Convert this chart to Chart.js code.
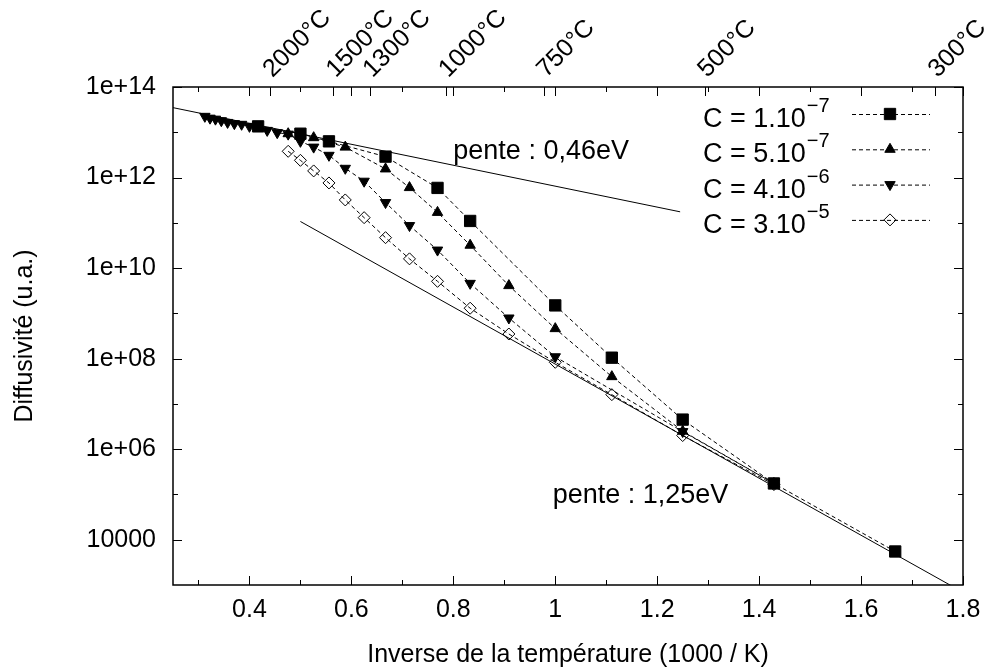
<!DOCTYPE html>
<html>
<head>
<meta charset="utf-8">
<script src="https://cdn.jsdelivr.net/npm/chart.js@4.4.0/dist/chart.umd.min.js"></script>
<style>
  html, body { margin: 0; padding: 0; background: #fff; }
  #wrap { width: 989px; height: 670px; }
</style>
</head>
<body>
<div id="wrap"><canvas id="myChart" width="989" height="670"></canvas></div>
<script>
// x = inverse temperature (1000 / K), y = diffusivity (u.a.)
var xC1 = [0.417, 0.5, 0.556, 0.667, 0.769, 0.833, 1.0, 1.111, 1.25, 1.429, 1.667];
var yC1 = [1.35e13, 9.3e12, 6.3e12, 2.9e12, 5.9e11, 1.1e11, 1.5e9, 1.05e8, 4.5e6, 1.75e5, 5.5e3];

var xC2 = [0.476, 0.526, 0.588, 0.667, 0.714, 0.769, 0.833, 0.909, 1.0, 1.111, 1.25, 1.429];
var yC2 = [9.3e12, 7.6e12, 4.7e12, 1.55e12, 6.0e11, 1.7e11, 3.2e10, 4.1e9, 4.6e8, 4.0e7, 2.5e6, 1.75e5];

var xC3 = [0.3125, 0.3226, 0.3333, 0.3448, 0.3571, 0.3704, 0.3846, 0.4, 0.4348, 0.4545, 0.476,
           0.5, 0.526, 0.556, 0.588, 0.625, 0.667, 0.714, 0.769, 0.833, 0.909, 1.0, 1.25, 1.429];
var yC3 = [2.25e13, 2.05e13, 1.95e13, 1.8e13, 1.65e13, 1.55e13, 1.5e13, 1.35e13, 1.1e13, 9.8e12, 9.1e12,
           6.3e12, 4.7e12, 3.1e12, 1.6e12, 8.3e11, 2.8e11, 8.7e10, 2.5e10, 4.6e9, 7.9e8, 1.1e8, 2.45e6, 1.75e5];

var xC4 = [0.476, 0.5, 0.526, 0.556, 0.588, 0.625, 0.667, 0.714, 0.769, 0.833, 0.909, 1.0, 1.111, 1.25, 1.429];
var yC4 = [3.8e12, 2.4e12, 1.4e12, 7.6e11, 3.2e11, 1.3e11, 4.7e10, 1.6e10, 5.1e9, 1.3e9, 3.5e8, 8.3e7, 1.6e7, 2.0e6, 1.65e5];

// the two straight fits
var xFit1 = [0.25, 1.245];
var yFit1 = [3.5e13, 1.75e11];
var xFit2 = [0.5, 1.8];
var yFit2 = [1.07e11, 6.9e2];

var legendBase = ['C = 1.10', 'C = 5.10', 'C = 4.10', 'C = 3.10'];
var legendExp = ['\u22127', '\u22127', '\u22126', '\u22125'];

var noteText = ['pente : 0,46eV', 'pente : 1,25eV'];
var noteX = [0.8, 0.995];
var noteY = [2.6e12, 6.6e4];

var xMajor = [0.4, 0.6, 0.8, 1.0, 1.2, 1.4, 1.6, 1.8];
var xMinor = [0.3, 0.5, 0.7, 0.9, 1.1, 1.3, 1.5, 1.7];
var tempPos = [0.44, 0.564, 0.636, 0.785, 0.977, 1.293, 1.745];
var tempLabels = ['2000\u00b0C', '1500\u00b0C', '1300\u00b0C', '1000\u00b0C', '750\u00b0C', '500\u00b0C', '300\u00b0C'];
var yMajor = [1e4, 1e6, 1e8, 1e10, 1e12, 1e14];
var yMinor = [1e5, 1e7, 1e9, 1e11, 1e13];
var yLabels = ['10000', '1e+06', '1e+08', '1e+10', '1e+12', '1e+14'];

var FONT = '"Liberation Sans", Arial, sans-serif';

function pts(xs, ys) {
  return xs.map(function (x, i) { return { x: x, y: ys[i] }; });
}

function series(xs, ys, style, rot, r, fill) {
  return {
    data: pts(xs, ys),
    showLine: true,
    borderColor: '#000',
    borderWidth: 1,
    borderDash: [4, 3],
    pointStyle: style,
    rotation: rot,
    pointRadius: r,
    pointBorderWidth: 1,
    pointBorderColor: '#000',
    pointBackgroundColor: fill,
    backgroundColor: fill
  };
}

function fitLine(xs, ys) {
  return {
    data: pts(xs, ys),
    showLine: true,
    borderColor: '#000',
    borderWidth: 1,
    pointRadius: 0
  };
}

var marks = [
  { style: 'rect', rot: 0, r: 8, fill: '#000' },
  { style: 'triangle', rot: 0, r: 6, fill: '#000' },
  { style: 'triangle', rot: 180, r: 6, fill: '#000' },
  { style: 'rectRot', rot: 0, r: 6, fill: 'rgba(0,0,0,0)' }
];

var decor = {
  id: 'decor',
  afterDraw: function (chart) {
    var ctx = chart.ctx, a = chart.chartArea;
    var sx = chart.scales.x, sy = chart.scales.y;
    ctx.save();
    ctx.strokeStyle = '#000';
    ctx.lineWidth = 1;
    ctx.beginPath();
    function vt(v, len) {
      var p = Math.round(sx.getPixelForValue(v)) + 0.5;
      ctx.moveTo(p, a.bottom); ctx.lineTo(p, a.bottom - len);
      ctx.moveTo(p, a.top); ctx.lineTo(p, a.top + len);
    }
    xMajor.forEach(function (v) { vt(v, 9); });
    xMinor.forEach(function (v) { vt(v, 5); });
    tempPos.forEach(function (v) {
      var p = Math.round(sx.getPixelForValue(v)) + 0.5;
      ctx.moveTo(p, a.top); ctx.lineTo(p, a.top + 9);
    });
    function ht(v, len) {
      var p = Math.round(sy.getPixelForValue(v)) + 0.5;
      ctx.moveTo(a.left, p); ctx.lineTo(a.left + len, p);
      ctx.moveTo(a.right, p); ctx.lineTo(a.right - len, p);
    }
    yMajor.forEach(function (v) { ht(v, 9); });
    yMinor.forEach(function (v) { ht(v, 5); });
    ctx.stroke();

    ctx.lineWidth = 1.5;
    ctx.strokeRect(a.left, a.top, a.right - a.left, a.bottom - a.top);

    // slope notes
    ctx.fillStyle = '#000';
    ctx.font = '27px ' + FONT;
    ctx.textAlign = 'left';
    ctx.textBaseline = 'alphabetic';
    noteText.forEach(function (t, i) {
      ctx.fillText(t, sx.getPixelForValue(noteX[i]), sy.getPixelForValue(noteY[i]));
    });

    // legend (text left, sample right, like the original)
    for (var i = 0; i < legendBase.length; i++) {
      var ly = a.top + 27 + i * 35.3;
      ctx.font = '27px ' + FONT;
      ctx.fillText(legendBase[i], a.right - 260, ly + 13);
      var w = ctx.measureText(legendBase[i]).width;
      ctx.font = '20px ' + FONT;
      ctx.fillText(legendExp[i], a.right - 260 + w + 1, ly - 2);
      ctx.lineWidth = 1;
      ctx.setLineDash([4, 3]);
      ctx.beginPath();
      ctx.moveTo(a.right - 111, ly + 0.5);
      ctx.lineTo(a.right - 33, ly + 0.5);
      ctx.stroke();
      ctx.setLineDash([]);
      var m = marks[i];
      ctx.fillStyle = m.fill;
      Chart.helpers.drawPoint(ctx, { pointStyle: m.style, rotation: m.rot, radius: m.r, borderWidth: 1 }, a.right - 73, ly);
      ctx.fillStyle = '#000';
    }
    ctx.restore();
  }
};

function noPad(s) { s.paddingLeft = 0; s.paddingRight = 0; s.paddingTop = 0; s.paddingBottom = 0; }

var ctx = document.getElementById('myChart').getContext('2d');
var myChart = new Chart(ctx, {
  type: 'scatter',
  data: {
    datasets: [
      series(xC1, yC1, marks[0].style, marks[0].rot, marks[0].r, marks[0].fill),
      series(xC2, yC2, marks[1].style, marks[1].rot, marks[1].r, marks[1].fill),
      series(xC3, yC3, marks[2].style, marks[2].rot, marks[2].r, marks[2].fill),
      series(xC4, yC4, marks[3].style, marks[3].rot, marks[3].r, marks[3].fill),
      fitLine(xFit1, yFit1),
      fitLine(xFit2, yFit2)
    ]
  },
  options: {
    responsive: false,
    animation: false,
    devicePixelRatio: 1,
    layout: { padding: { left: 0, right: 26, top: 0, bottom: 0 } },
    plugins: { legend: { display: false }, tooltip: { enabled: false } },
    scales: {
      x: {
        type: 'linear', position: 'bottom', min: 0.25, max: 1.8,
        grid: { display: false, drawTicks: false }, border: { display: false },
        afterBuildTicks: function (s) { s.ticks = xMajor.map(function (v) { return { value: v }; }); },
        afterFit: function (s) { s.height = 85; noPad(s); },
        ticks: {
          autoSkip: false, maxRotation: 0, padding: 10, color: '#000',
          font: { family: FONT, size: 25 },
          callback: function (v) { return String(+Number(v).toFixed(1)); }
        },
        title: {
          display: true, text: 'Inverse de la temp\u00e9rature (1000 / K)', color: '#000',
          font: { family: FONT, size: 25 }, padding: { top: 0, bottom: 0 }
        }
      },
      x2: {
        type: 'linear', position: 'top', min: 0.25, max: 1.8,
        grid: { display: false, drawTicks: false }, border: { display: false },
        afterBuildTicks: function (s) { s.ticks = tempPos.map(function (v) { return { value: v }; }); },
        afterFit: function (s) { s.height = 87; noPad(s); },
        ticks: {
          autoSkip: false, minRotation: 45, maxRotation: 45, padding: 3, labelOffset: 19, color: '#000',
          font: { family: FONT, size: 25 },
          callback: function (v, i) { return tempLabels[i]; }
        }
      },
      y: {
        type: 'logarithmic', position: 'left', min: 1e3, max: 1e14,
        grid: { display: false, drawTicks: false }, border: { display: false },
        afterBuildTicks: function (s) { s.ticks = yMajor.map(function (v) { return { value: v }; }); },
        afterFit: function (s) { s.width = 173; },
        ticks: {
          autoSkip: false, padding: 17, color: '#000',
          font: { family: FONT, size: 25 },
          callback: function (v, i) { return yLabels[i]; }
        },
        title: {
          display: true, text: 'Diffusivit\u00e9 (u.a.)', color: '#000',
          font: { family: FONT, size: 25 }, padding: { top: 10, bottom: 0 }
        }
      }
    }
  },
  plugins: [decor]
});
</script>
</body>
</html>
